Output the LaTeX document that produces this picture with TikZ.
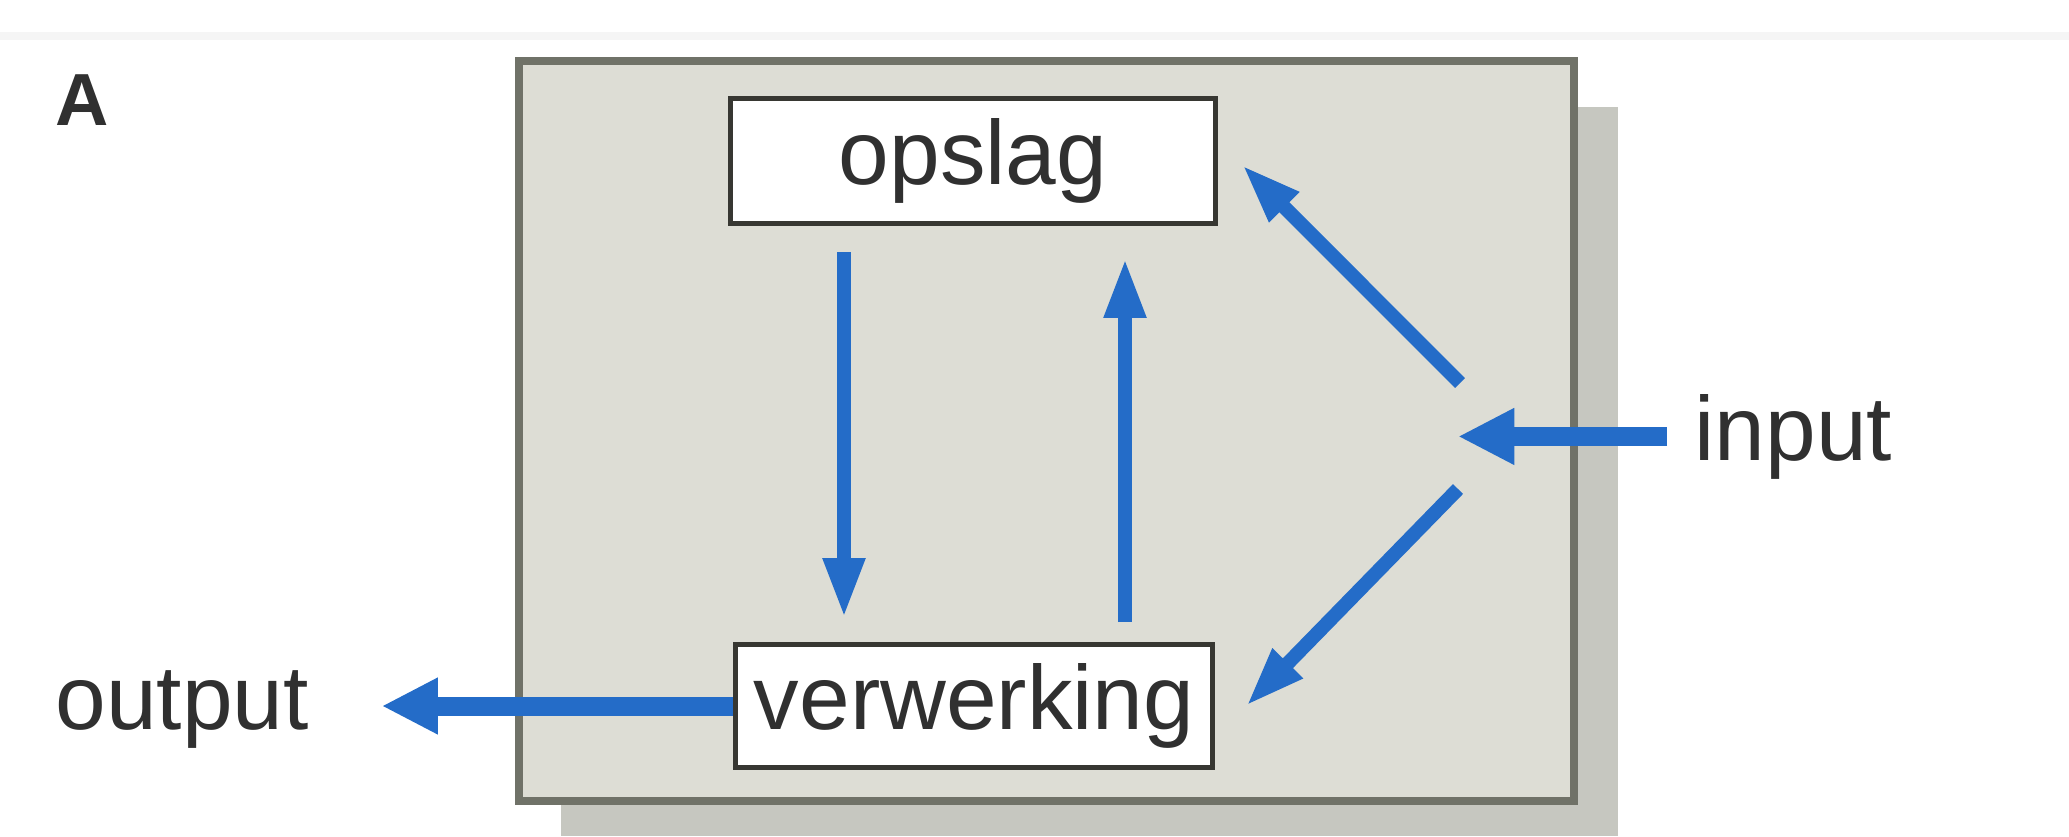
\documentclass[tikz,border=0pt]{standalone}
\usepackage{fontspec}
\setmainfont{Liberation Sans}
\usetikzlibrary{arrows.meta,calc}
\definecolor{arrowblue}{RGB}{36,108,200}
\definecolor{panelfill}{RGB}{221,221,213}
\definecolor{paneledge}{RGB}{112,114,104}
\definecolor{shadowc}{RGB}{198,199,192}
\definecolor{boxedge}{RGB}{55,55,50}
\definecolor{txt}{RGB}{48,48,48}
\begin{document}
\begin{tikzpicture}[x=0.01cm,y=-0.01cm,
  lbl/.style={font=\fontsize{25.9pt}{30pt}\selectfont, text=txt, inner sep=0pt},
  membox/.style={draw=boxedge, line width=1.4pt, fill=white, lbl},
  thinarr/.style={draw=arrowblue, line width=4pt, -{Triangle[length=17pt,width=11pt]}},
  thickarr/.style={draw=arrowblue, line width=5.4pt, -{Triangle[length=16pt,width=15pt]}}]
\useasboundingbox (0,0) rectangle (2069,836);
\fill[white] (0,0) rectangle (2069,836);
% faint top rule
\draw[black!4, line width=2pt] (0,36) -- (2069,36);
% panel shadow and panel
\fill[shadowc] (561,107) rectangle (1618,836);
\draw[draw=paneledge, line width=2.5pt, fill=panelfill] (519,61) rectangle (1574,801);
% label A
\node[font=\bfseries\fontsize{21pt}{24pt}\selectfont, text=txt, inner sep=0pt, anchor=base west] (lblA) at (55,125) {A};
% boxes
\node[membox, minimum width=4.85cm, minimum height=1.25cm] (opslag) at (973,161) {opslag};
\node[membox, minimum width=4.77cm, minimum height=1.23cm] (verw) at (974,706) {verwerking};
% outside labels
\node[lbl, anchor=base west] (inp) at (1694,460) {input};
\node[lbl, anchor=base west] (outp) at (55,729) {output};
% junction coordinates
\coordinate (hub) at (1458,438);
\coordinate (hubU) at (1460,383);
\coordinate (hubD) at (1458,489);
% arrows
\draw[thinarr] ($(opslag.south)+(-129,26)$) -- ($(verw.north)+(-130,-24)$);
\draw[thinarr] ($(verw.north)+(151,-20)$) -- ($(opslag.south)+(152,32)$);
\draw[thinarr] (hubU) -- ($(opslag.east)+(24,4)$);
\draw[thinarr] (hubD) -- ($(verw.east)+(31,0)$);
\draw[thickarr] ($(inp.west)+(-27,0)$) -- (hub |- inp.west);
\draw[thickarr] (verw.west) -- ($(verw.west -| outp.east)+(72,0)$);
\end{tikzpicture}
\end{document}
